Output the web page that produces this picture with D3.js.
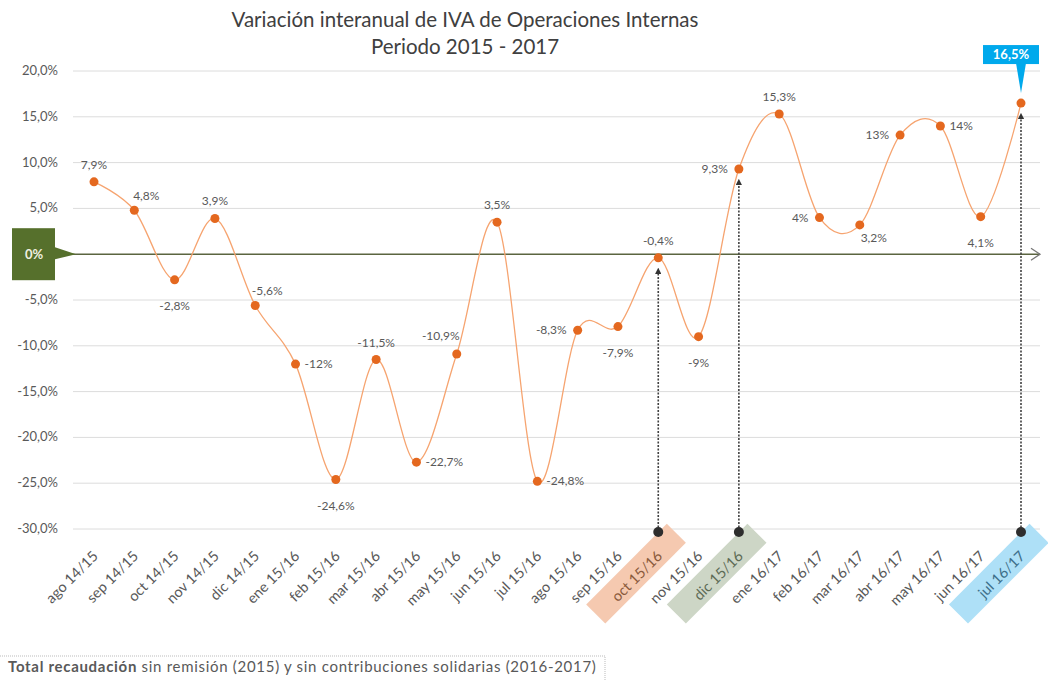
<!DOCTYPE html>
<html>
<head>
<meta charset="utf-8">
<script src="https://cdn.jsdelivr.net/npm/d3@7"></script>
<style>
  body { margin: 0; background: #fff; }
  svg { font-family: Lato, "Open Sans", sans-serif; }
</style>
</head>
<body>
<div id="chart"></div>
<script>
// Chart data
const months = ["ago 14/15", "sep 14/15", "oct 14/15", "nov 14/15", "dic 14/15", "ene 15/16",
  "feb 15/16", "mar 15/16", "abr 15/16", "may 15/16", "jun 15/16", "jul 15/16",
  "ago 15/16", "sep 15/16", "oct 15/16", "nov 15/16", "dic 15/16", "ene 16/17",
  "feb  16/17", "mar 16/17", "abr 16/17", "may 16/17", "jun 16/17", "jul 16/17"];
const values = [7.9, 4.8, -2.8, 3.9, -5.6, -12, -24.6, -11.5, -22.7, -10.9, 3.5, -24.8,
  -8.3, -7.9, -0.4, -9, 9.3, 15.3, 4, 3.2, 13, 14, 4.1, 16.5];
const valueLabels = ["7,9%", "4,8%", "-2,8%", "3,9%", "-5,6%", "-12%", "-24,6%", "-11,5%",
  "-22,7%", "-10,9%", "3,5%", "-24,8%", "-8,3%", "-7,9%", "-0,4%", "-9%", "9,3%", "15,3%",
  "4%", "3,2%", "13%", "14%", "4,1%", "16,5%"];
// where each data label sits relative to its point
const labelPos = ["above", "aboveRight", "below", "above", "aboveRight", "right", "below", "above",
  "right", "aboveLeft", "above", "right", "left", "below", "above", "below", "left", "above",
  "left", "belowRight", "left", "right", "below", "callout"];
const yTicks = [20, 15, 10, 5, -5, -10, -15, -20, -25, -30];
const highlights = [
  { month: "oct 15/16", color: "#f5c9b0", text: "#8a5a3c" },
  { month: "dic 15/16", color: "#cdd6c6", text: "#5d6b55" },
  { month: "jul 16/17", color: "#aee0f7", text: "#3d6f8a" }
];

const width = 1048, height = 681;
const svg = d3.select("#chart").append("svg")
  .attr("width", width)
  .attr("height", height);

const x = d3.scalePoint().domain(months).range([94, 1021]);
const y = d3.scaleLinear().domain([-30, 20]).range([529, 71]);

const defs = svg.append("defs");
defs.append("marker")
  .attr("id", "arrow")
  .attr("viewBox", "0 0 10 10")
  .attr("refX", 5).attr("refY", 5)
  .attr("markerWidth", 4).attr("markerHeight", 4)
  .attr("orient", "auto")
  .append("path")
  .attr("d", "M0,0 L10,5 L0,10 z")
  .attr("fill", "#333");

// Title
svg.append("text")
  .attr("x", 465).attr("y", 27)
  .attr("text-anchor", "middle")
  .attr("font-size", 20.5)
  .attr("fill", "#404040")
  .text("Variación interanual de IVA de Operaciones Internas");
svg.append("text")
  .attr("x", 465).attr("y", 54)
  .attr("text-anchor", "middle")
  .attr("font-size", 20.5)
  .attr("fill", "#404040")
  .text("Periodo 2015 - 2017");

// Gridlines and y labels
svg.append("g").selectAll("line")
  .data(yTicks)
  .join("line")
  .attr("x1", 73).attr("x2", 1040)
  .attr("y1", d => y(d)).attr("y2", d => y(d))
  .attr("stroke", "#dcdcdc")
  .attr("stroke-width", 1);

svg.append("g").selectAll("text")
  .data(yTicks)
  .join("text")
  .attr("x", 58)
  .attr("y", d => y(d) + 4)
  .attr("text-anchor", "end")
  .attr("font-size", 13)
  .attr("fill", "#595959")
  .text(d => d3.format(".1f")(d).replace(".", ",").replace("−", "-") + "%");

// Zero line with open arrow
svg.append("line")
  .attr("x1", 55).attr("x2", 1040)
  .attr("y1", y(0)).attr("y2", y(0))
  .attr("stroke", "#5b6540")
  .attr("stroke-width", 1.5);
svg.append("path")
  .attr("d", `M1031,${y(0) - 6} L1040,${y(0)} L1031,${y(0) + 6}`)
  .attr("fill", "none")
  .attr("stroke", "#777")
  .attr("stroke-width", 1.3);

// 0% green tag
svg.append("path")
  .attr("d", `M55,${y(0) - 7} L76,${y(0)} L55,${y(0) + 5} z`)
  .attr("fill", "#56702c");
svg.append("rect")
  .attr("x", 12).attr("y", y(0) - 26)
  .attr("width", 43).attr("height", 52)
  .attr("fill", "#56702c");
svg.append("text")
  .attr("x", 34).attr("y", y(0) + 5)
  .attr("text-anchor", "middle")
  .attr("font-size", 13)
  .attr("font-weight", "bold")
  .attr("fill", "#f0f0e0")
  .text("0%");

// Highlighted month boxes
const hl = svg.append("g").selectAll("g")
  .data(highlights)
  .join("g")
  .attr("transform", d => `translate(${x(d.month) + 5},${557}) rotate(-45)`);
hl.append("rect")
  .attr("x", -88).attr("y", -21)
  .attr("width", 114).attr("height", 27)
  .attr("fill", d => d.color);

// X axis labels
svg.append("g").selectAll("text")
  .data(months)
  .join("text")
  .attr("transform", d => `translate(${x(d) + 5},${557}) rotate(-45)`)
  .attr("text-anchor", "end")
  .attr("font-size", 14.5)
  .attr("fill", d => {
    const h = highlights.find(k => k.month === d);
    return h ? h.text : "#595959";
  })
  .text(d => d);

// Vertical dotted arrows from highlighted months to their points
highlights.forEach(h => {
  const i = months.indexOf(h.month);
  const px = x(h.month);
  svg.append("line")
    .attr("x1", px).attr("x2", px)
    .attr("y1", 531).attr("y2", y(values[i]) + 13)
    .attr("stroke", "#404040")
    .attr("stroke-width", 1.6)
    .attr("stroke-dasharray", "2,1.5")
    .attr("marker-end", "url(#arrow)");
  svg.append("circle")
    .attr("cx", px).attr("cy", 532)
    .attr("r", 5)
    .attr("fill", "#2e2e2e");
});

// Smoothed series line
const line = d3.line()
  .x((d, i) => x(months[i]))
  .y(d => y(d))
  .curve(d3.curveCatmullRom.alpha(0));
svg.append("path")
  .datum(values)
  .attr("d", line)
  .attr("fill", "none")
  .attr("stroke", "#f6a470")
  .attr("stroke-width", 1.3);

svg.append("g").selectAll("circle")
  .data(values)
  .join("circle")
  .attr("cx", (d, i) => x(months[i]))
  .attr("cy", d => y(d))
  .attr("r", 4.5)
  .attr("fill", "#e4681f");

// Data labels
const offsets = {
  above: [0, -13, "middle"],
  aboveRight: [12, -10, "middle"],
  aboveLeft: [-16, -14, "middle"],
  below: [0, 30, "middle"],
  belowRight: [14, 17, "middle"],
  right: [9, 4, "start"],
  left: [-11, 4, "end"]
};
svg.append("g").selectAll("text")
  .data(values.map((v, i) => i).filter(i => labelPos[i] !== "callout"))
  .join("text")
  .attr("x", i => x(months[i]) + offsets[labelPos[i]][0])
  .attr("y", i => y(values[i]) + offsets[labelPos[i]][1])
  .attr("text-anchor", i => offsets[labelPos[i]][2])
  .attr("font-size", 12)
  .attr("fill", "#595959")
  .text(i => valueLabels[i]);

// Callout on the last value
const last = values.length - 1;
const cx = x(months[last]), cy = y(values[last]);
svg.append("path")
  .attr("d", `M${cx - 5},${cy - 40} L${cx + 5},${cy - 40} L${cx},${cy - 10} z`)
  .attr("fill", "#00a9ec");
svg.append("rect")
  .attr("x", cx - 38).attr("y", cy - 58)
  .attr("width", 56).attr("height", 19)
  .attr("fill", "#00a9ec");
svg.append("text")
  .attr("x", cx - 10).attr("y", cy - 44)
  .attr("text-anchor", "middle")
  .attr("font-size", 13)
  .attr("font-weight", "bold")
  .attr("fill", "#fff")
  .text(valueLabels[last]);

// Footer note
svg.append("path")
  .attr("d", "M0,656 L605,656 L605,681")
  .attr("fill", "none")
  .attr("stroke", "#bbb")
  .attr("stroke-dasharray", "1,1");
const foot = svg.append("text")
  .attr("x", 8).attr("y", 672)
  .attr("font-size", 15)
  .attr("letter-spacing", 0.7)
  .attr("fill", "#595959");
foot.append("tspan").attr("font-weight", "bold").text("Total recaudación");
foot.append("tspan").text(" sin remisión (2015) y sin contribuciones solidarias (2016-2017)");
</script>
</body>
</html>
